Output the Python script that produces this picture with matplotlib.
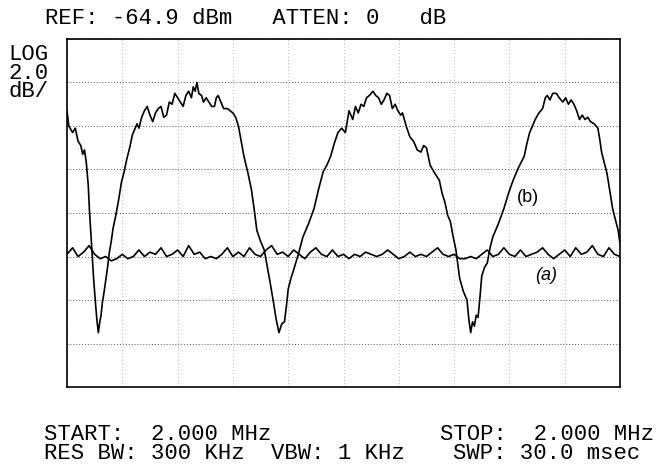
import numpy as np
import matplotlib
matplotlib.use("Agg")
import matplotlib.pyplot as plt

# screen settings (zero span, 30 ms sweep, 2 dB/div, ref at top)
ref_level = -64.9
db_per_div = 2.0
sweep_ms = 30.0

# trace (b): time in ms, level in dBm
t_b = [0.00, 0.10, 0.30, 0.45, 0.60, 0.75, 0.85, 0.95, 1.05, 1.15, 1.22, 1.30, 1.38, 1.45,
       1.55, 1.62, 1.70, 1.78, 1.85, 1.92, 2.00, 2.10, 2.20, 2.30, 2.40, 2.50, 2.65, 2.80,
       2.95, 3.10, 3.25, 3.40, 3.55, 3.70, 3.80, 3.90, 4.05, 4.20, 4.35, 4.50, 4.65, 4.80,
       4.95, 5.10, 5.25, 5.40, 5.55, 5.70, 5.85, 6.00, 6.15, 6.30, 6.45, 6.60, 6.75, 6.85,
       6.95, 7.05, 7.15, 7.30, 7.40, 7.55, 7.70, 7.85, 8.00, 8.10, 8.20, 8.35, 8.50, 8.70,
       8.85, 9.00, 9.15, 9.30, 9.45, 9.60, 9.80, 10.00, 10.15, 10.30, 10.50, 10.70, 10.85,
       11.00, 11.20, 11.35, 11.50, 11.65, 11.80, 11.90, 12.00, 12.15, 12.30, 12.55, 12.80,
       13.10, 13.40, 13.65, 13.90, 14.10, 14.30, 14.50, 14.70, 14.90, 15.10, 15.20, 15.30,
       15.50, 15.65, 15.80, 15.95, 16.10, 16.25, 16.40, 16.60, 16.75, 16.90, 17.05, 17.20,
       17.35, 17.50, 17.65, 17.80, 17.95, 18.10, 18.20, 18.40, 18.60, 18.80, 19.00, 19.20,
       19.35, 19.50, 19.70, 19.90, 20.20, 20.35, 20.50, 20.65, 20.80, 20.95, 21.10, 21.30,
       21.50, 21.70, 21.80, 21.90, 22.00, 22.10, 22.20, 22.30, 22.40, 22.50, 22.65, 22.80,
       22.95, 23.10, 23.40, 23.70, 23.95, 24.20, 24.50, 24.80, 24.95, 25.10, 25.25, 25.40,
       25.60, 25.80, 25.95, 26.05, 26.20, 26.35, 26.55, 26.70, 26.90, 27.05, 27.20, 27.35,
       27.50, 27.65, 27.80, 27.95, 28.10, 28.25, 28.40, 28.60, 28.80, 28.90, 29.00, 29.15,
       29.30, 29.45, 29.60, 29.75, 29.90, 30.00]
lvl_b = [-68.2, -68.9, -69.2, -69.0, -69.6, -69.8, -70.2, -70.0, -70.6, -71.6, -72.8, -73.9,
         -75.0, -76.0, -77.1, -77.8, -78.4, -77.9, -77.6, -77.0, -76.6, -76.0, -75.4, -74.7,
         -74.2, -73.6, -73.0, -72.3, -71.5, -71.0, -70.4, -69.9, -69.3, -69.0, -68.8, -69.0,
         -68.5, -68.2, -68.0, -68.4, -68.7, -68.3, -68.1, -68.0, -68.5, -68.4, -67.8, -67.9,
         -67.4, -67.6, -67.8, -68.0, -67.5, -67.3, -67.6, -67.1, -67.3, -66.9, -67.4, -67.5,
         -67.8, -67.6, -67.8, -68.0, -68.0, -67.6, -67.5, -67.8, -68.1, -68.1, -68.2, -68.3,
         -68.5, -68.9, -69.6, -70.3, -71.0, -71.8, -72.7, -73.7, -74.2, -74.6, -75.3, -76.0,
         -77.0, -77.8, -78.4, -78.0, -77.9, -77.2, -76.4, -75.9, -75.5, -74.8, -74.0, -73.4,
         -72.7, -71.8, -71.0, -70.7, -70.3, -69.7, -69.2, -69.0, -69.2, -68.7, -68.2, -68.6,
         -68.0, -68.3, -67.9, -68.0, -67.6, -67.5, -67.3, -67.5, -67.6, -67.9, -67.7, -67.4,
         -67.5, -68.1, -67.9, -68.2, -68.4, -68.3, -68.9, -69.4, -69.6, -70.0, -70.1, -69.8,
         -69.9, -70.7, -71.0, -71.4, -72.0, -72.4, -73.0, -73.3, -74.0, -74.6, -75.9, -76.5,
         -76.9, -77.8, -78.4, -77.9, -78.1, -77.6, -77.7, -76.8, -75.8, -75.4, -75.2, -74.5,
         -74.0, -73.4, -72.7, -72.0, -71.4, -70.8, -70.3, -69.7, -69.2, -68.9, -68.6, -68.3,
         -68.1, -67.6, -67.5, -67.7, -67.4, -67.4, -67.6, -67.8, -67.6, -67.9, -67.7, -67.9,
         -68.2, -68.6, -68.4, -68.6, -68.5, -68.7, -68.8, -69.0, -69.5, -70.1, -70.6, -71.1,
         -71.9, -72.7, -73.2, -73.7, -74.3]

# trace (a): flat noise floor, one reading per sweep sample
lvl_a = [-74.8, -74.5, -74.9, -74.7, -74.4, -74.8, -75.0, -74.9, -75.1, -75.0, -74.8, -75.0,
         -74.9, -74.6, -74.9, -74.7, -74.8, -74.5, -74.9, -74.8, -74.6, -74.9, -74.4, -74.8,
         -74.7, -75.0, -74.9, -75.0, -74.8, -74.5, -74.9, -74.7, -74.9, -74.5, -74.8, -74.9,
         -74.6, -74.4, -74.8, -74.7, -74.9, -74.6, -74.8, -75.0, -74.7, -74.5, -74.8, -74.9,
         -74.6, -74.9, -74.8, -75.0, -74.8, -74.9, -74.7, -74.8, -74.9, -74.8, -74.6, -74.8,
         -75.0, -74.9, -74.7, -74.9, -74.8, -74.9, -74.7, -74.5, -74.8, -74.9, -74.8, -75.0,
         -75.0, -74.9, -75.0, -74.8, -74.6, -74.9, -74.8, -74.5, -74.8, -74.9, -74.6, -74.9,
         -74.8, -74.7, -74.5, -74.8, -75.0, -74.8, -74.6, -74.9, -74.5, -74.8, -74.7, -74.4,
         -74.8, -74.9, -74.5, -74.8, -74.9]
t_a = np.linspace(0, sweep_ms, len(lvl_a))

mono = "Liberation Mono"
fs = 16

fig = plt.figure(figsize=(6.56, 4.69), dpi=100)
ax = fig.add_axes([67 / 656, 1 - 387 / 469, 553 / 656, 348 / 469])

ax.plot(t_b, lvl_b, color="black", lw=1.2)
ax.plot(t_a, lvl_a, color="black", lw=1.2)

ax.set_xlim(0, sweep_ms)
ax.set_ylim(ref_level - 8 * db_per_div, ref_level)
ax.set_xticks(np.arange(0, sweep_ms + 0.1, 3.0))
ax.set_yticks(ref_level - db_per_div * np.arange(9))
ax.grid(axis="y", color="#555555", ls=(0, (1, 2)), lw=0.7)
ax.grid(axis="x", color="#999999", ls=(0, (1, 3)), lw=0.6)
ax.tick_params(length=0, labelbottom=False, labelleft=False)
for s in ax.spines.values():
    s.set_linewidth(1.2)

# handwritten trace labels
ax.text(24.4, -72.2, "(b)", fontsize=13, family="Liberation Sans", va="center")
ax.text(25.4, -75.4, "(a)", fontsize=13, style="italic", family="Liberation Sans", va="top")

# instrument annotations
fig.text(45 / 656, 1 - 19 / 469, "REF: -64.9 dBm   ATTEN: 0   dB",
         family=mono, fontsize=fs, va="center")
fig.text(8 / 656, 1 - 44 / 469, "LOG\n2.0\ndB/", family=mono, fontsize=fs,
         va="top", linespacing=0.85)
fig.text(44 / 656, 1 - 434 / 469, "START:  2.000 MHz", family=mono, fontsize=fs, va="center")
fig.text(654 / 656, 1 - 434 / 469, "STOP:  2.000 MHz", family=mono, fontsize=fs,
         va="center", ha="right")
fig.text(44 / 656, 1 - 453 / 469, "RES BW: 300 KHz", family=mono, fontsize=fs, va="center")
fig.text(271 / 656, 1 - 453 / 469, "VBW: 1 KHz", family=mono, fontsize=fs, va="center")
fig.text(640 / 656, 1 - 453 / 469, "SWP: 30.0 msec", family=mono, fontsize=fs,
         va="center", ha="right")

fig.savefig("out.png", dpi=100)
